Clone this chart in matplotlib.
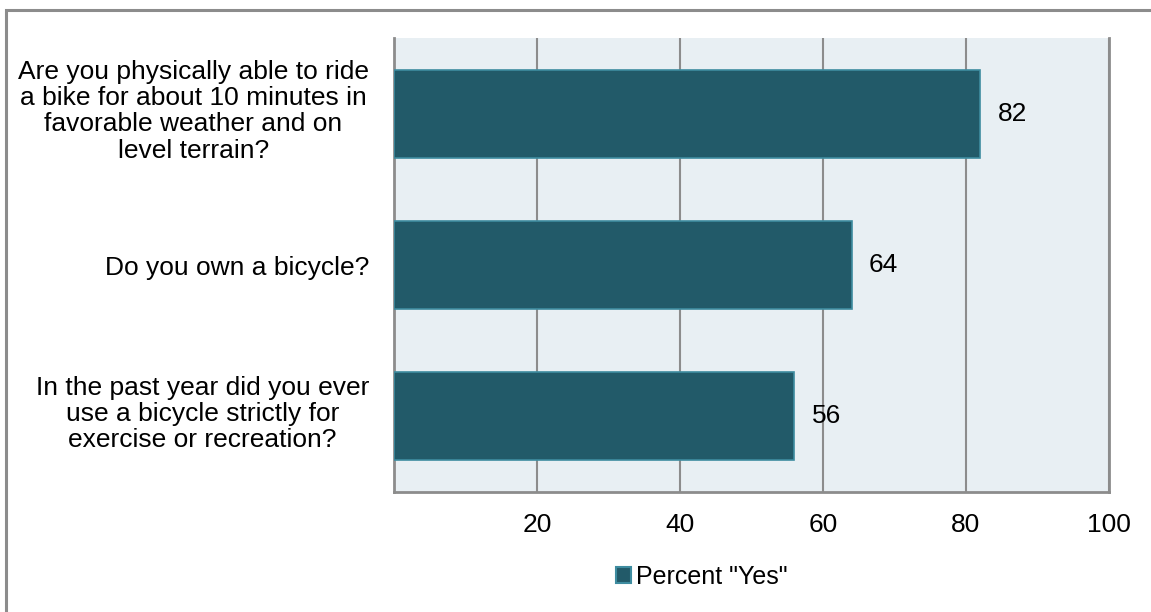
import matplotlib.pyplot as plt
from matplotlib.patches import Rectangle, Patch
from matplotlib.transforms import ScaledTranslation

# survey answers, top to bottom
questions = [
    "Are you physically able to ride\na bike for about 10 minutes in\nfavorable weather and on\nlevel terrain?",
    "Do you own a bicycle?",
    "In the past year did you ever\nuse a bicycle strictly for\nexercise or recreation?",
]
percent_yes = [82, 64, 56]
x_ticks = [20, 40, 60, 80, 100]

bar_color = "#225A69"
edge_color = "#3E8CA0"
grid_color = "#8C8C8C"

plt.rcParams["font.family"] = ["Liberation Sans", "DejaVu Sans"]

fig = plt.figure(figsize=(11.51, 6.12), dpi=100)
W, H = 1151, 612

# outer chart frame (cut off at right and bottom)
fig.patches.append(Rectangle((6 / W, -0.05), 1.2, (H - 10) / H + 0.05,
                             transform=fig.transFigure, fill=False,
                             edgecolor="#8C8C8C", linewidth=2.2))

ax = fig.add_axes([394 / W, 1 - 492 / H, (1109 - 394) / W, (492 - 38) / H])
ax.set_facecolor("#E8EFF3")

y_pos = list(range(len(questions)))
bars = ax.barh(y_pos, percent_yes, height=0.58, color=bar_color,
               edgecolor=edge_color, linewidth=1.2, zorder=3)

for y, v in zip(y_pos, percent_yes):
    ax.text(v + 2.4, y, str(v), va="center", ha="left", fontsize=19)

ax.set_xlim(0, 100)
ax.set_ylim(2.5, -0.5)
ax.set_xticks(x_ticks)
ax.set_xticklabels([str(t) for t in x_ticks], fontsize=19)
ax.set_yticks(y_pos)
ax.set_yticklabels(questions, fontsize=19, multialignment="center",
                   linespacing=1.12)
ax.tick_params(axis="both", length=0)
ax.tick_params(axis="x", pad=15)
ax.tick_params(axis="y", pad=18)

# multi-line labels sit a little high in the original
for lbl in ax.get_yticklabels():
    if "\n" in lbl.get_text():
        lbl.set_transform(lbl.get_transform()
                          + ScaledTranslation(0, 0.06, fig.dpi_scale_trans))

ax.grid(axis="x", color=grid_color, linewidth=1.5, zorder=1)
ax.set_axisbelow(True)
ax.spines["top"].set_visible(False)
for s in ["left", "bottom", "right"]:
    ax.spines[s].set_color(grid_color)
    ax.spines[s].set_linewidth(2)

handle = Patch(facecolor=bar_color, edgecolor=edge_color, linewidth=1.5)
fig.legend([handle], ['Percent "Yes"'], loc="center",
           bbox_to_anchor=(702 / W, 1 - 577 / H), frameon=False,
           fontsize=18, handlelength=0.62, handleheight=0.62,
           handletextpad=0.2)

fig.savefig("out.png", dpi=100)
